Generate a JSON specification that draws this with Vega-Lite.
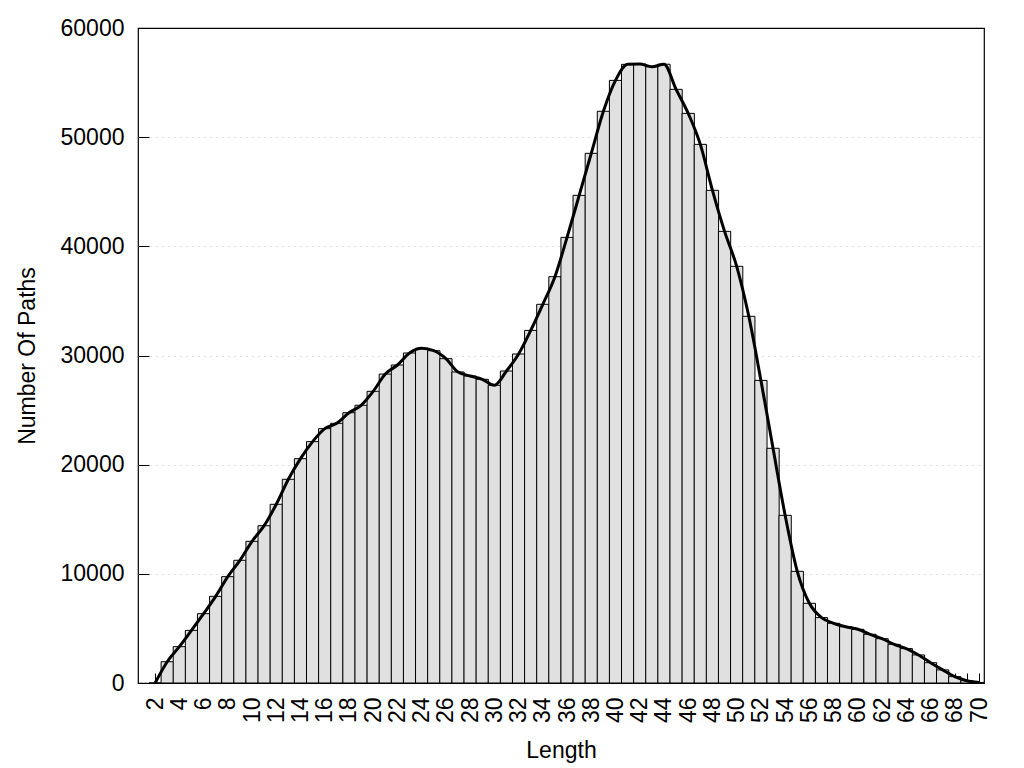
{
  "$schema": "https://vega.github.io/schema/vega-lite/v6.json",
  "autosize": {"type": "none"},
  "padding": {"left": 138, "top": 28, "right": 40, "bottom": 85},
  "width": 846,
  "height": 655,
  "background": "white",
  "config": {
    "view": {"stroke": "black", "strokeWidth": 1.2},
    "font": "Liberation Sans",
    "axis": {
      "labelFont": "Liberation Sans",
      "titleFont": "Liberation Sans",
      "labelColor": "black",
      "titleColor": "black",
      "labelFontSize": 23,
      "titleFontSize": 23,
      "titleFontWeight": "normal",
      "tickColor": "black",
      "tickWidth": 1,
      "domain": false,
      "labelOverlap": false,
      "labelFlush": false,
      "labelBound": false
    }
  },
  "data": {
    "values": [
      {"length": 2, "paths": 0},
      {"length": 3, "paths": 1950},
      {"length": 4, "paths": 3330},
      {"length": 5, "paths": 4820},
      {"length": 6, "paths": 6350},
      {"length": 7, "paths": 7940},
      {"length": 8, "paths": 9740},
      {"length": 9, "paths": 11240},
      {"length": 10, "paths": 12980},
      {"length": 11, "paths": 14410},
      {"length": 12, "paths": 16370},
      {"length": 13, "paths": 18660},
      {"length": 14, "paths": 20550},
      {"length": 15, "paths": 22110},
      {"length": 16, "paths": 23300},
      {"length": 17, "paths": 23790},
      {"length": 18, "paths": 24760},
      {"length": 19, "paths": 25440},
      {"length": 20, "paths": 26720},
      {"length": 21, "paths": 28300},
      {"length": 22, "paths": 29130},
      {"length": 23, "paths": 30230},
      {"length": 24, "paths": 30660},
      {"length": 25, "paths": 30440},
      {"length": 26, "paths": 29710},
      {"length": 27, "paths": 28490},
      {"length": 28, "paths": 28120},
      {"length": 29, "paths": 27820},
      {"length": 30, "paths": 27270},
      {"length": 31, "paths": 28580},
      {"length": 32, "paths": 30140},
      {"length": 33, "paths": 32300},
      {"length": 34, "paths": 34690},
      {"length": 35, "paths": 37220},
      {"length": 36, "paths": 40820},
      {"length": 37, "paths": 44670},
      {"length": 38, "paths": 48520},
      {"length": 39, "paths": 52370},
      {"length": 40, "paths": 55200},
      {"length": 41, "paths": 56670},
      {"length": 42, "paths": 56700},
      {"length": 43, "paths": 56450},
      {"length": 44, "paths": 56680},
      {"length": 45, "paths": 54380},
      {"length": 46, "paths": 52180},
      {"length": 47, "paths": 49340},
      {"length": 48, "paths": 45130},
      {"length": 49, "paths": 41370},
      {"length": 50, "paths": 38170},
      {"length": 51, "paths": 33590},
      {"length": 52, "paths": 27720},
      {"length": 53, "paths": 21500},
      {"length": 54, "paths": 15360},
      {"length": 55, "paths": 10230},
      {"length": 56, "paths": 7300},
      {"length": 57, "paths": 5990},
      {"length": 58, "paths": 5470},
      {"length": 59, "paths": 5160},
      {"length": 60, "paths": 4920},
      {"length": 61, "paths": 4460},
      {"length": 62, "paths": 4060},
      {"length": 63, "paths": 3540},
      {"length": 64, "paths": 3150},
      {"length": 65, "paths": 2570},
      {"length": 66, "paths": 1860},
      {"length": 67, "paths": 1200},
      {"length": 68, "paths": 580},
      {"length": 69, "paths": 210},
      {"length": 70, "paths": 50}
    ]
  },
  "encoding": {
    "x": {
      "field": "length",
      "type": "quantitative",
      "scale": {"domain": [1, 70], "nice": false, "zero": false},
      "axis": {
        "title": "Length",
        "values": [2,3,4,5,6,7,8,9,10,11,12,13,14,15,16,17,18,19,20,21,22,23,24,25,26,27,28,29,30,31,32,33,34,35,36,37,38,39,40,41,42,43,44,45,46,47,48,49,50,51,52,53,54,55,56,57,58,59,60,61,62,63,64,65,66,67,68,69,70],
        "labelExpr": "datum.value % 2 == 0 ? datum.label : ''",
        "labelAngle": -90,
        "tickSize": -10,
        "labelPadding": 24,
        "titlePadding": 17,
        "grid": false
      }
    },
    "y": {
      "field": "paths",
      "type": "quantitative",
      "scale": {"domain": [0, 60000], "nice": false},
      "axis": {
        "title": "Number Of Paths",
        "values": [0, 10000, 20000, 30000, 40000, 50000, 60000],
        "format": "d",
        "tickSize": -11,
        "labelPadding": 25,
        "titlePadding": 21,
        "grid": true,
        "gridColor": {"condition": {"test": "datum.value == 0 || datum.value == 60000", "value": "black"}, "value": "#c4c4c4"},
        "gridDash": {"condition": {"test": "datum.value == 0 || datum.value == 60000", "value": []}, "value": [1, 5]},
        "gridWidth": 1
      }
    }
  },
  "layer": [
    {
      "mark": {"type": "bar", "width": 12.26, "fill": "#e0e0e0", "stroke": "black", "strokeWidth": 1, "clip": true}
    },
    {
      "mark": {"type": "line", "color": "black", "strokeWidth": 3, "interpolate": "monotone", "clip": true}
    }
  ]
}
